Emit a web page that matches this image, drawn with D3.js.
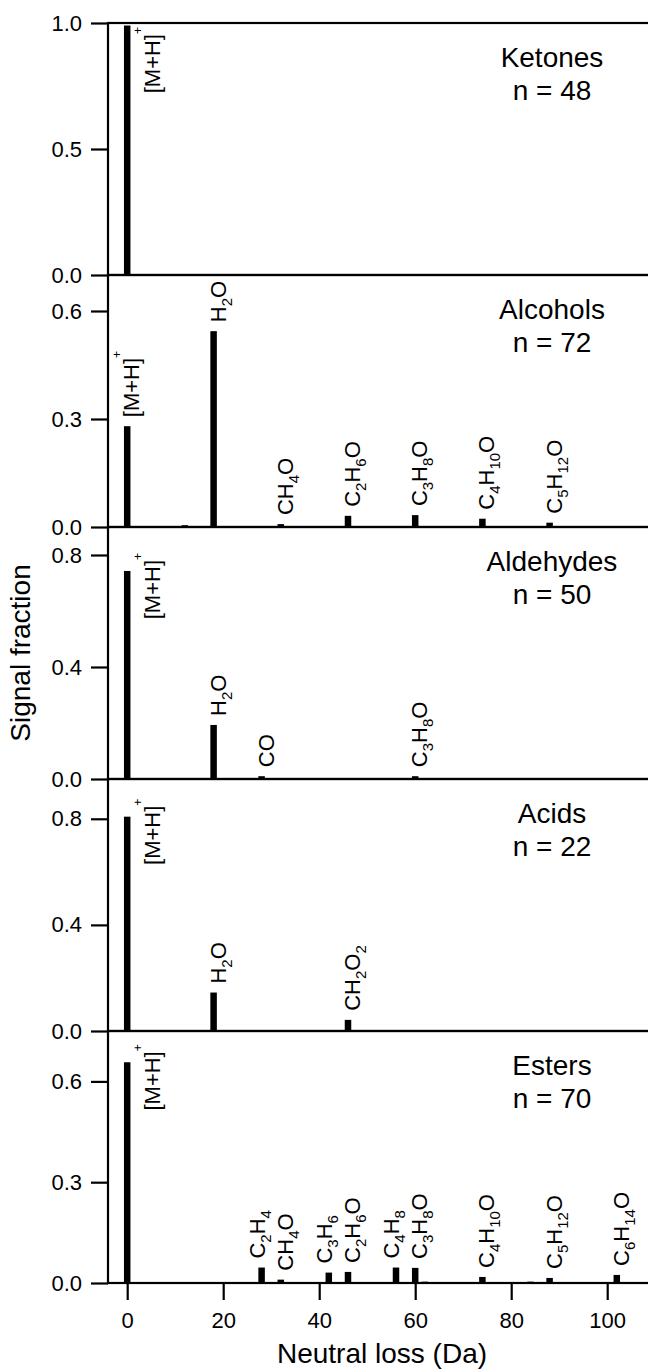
<!DOCTYPE html>
<html>
<head>
<meta charset="utf-8">
<script src="https://cdn.jsdelivr.net/npm/d3@7"></script>
<style>
body{margin:0;background:#fff;}
text{font-family:"Liberation Sans",Arial,Helvetica,sans-serif;fill:#000;}
</style>
</head>
<body>
<div id="chart"></div>
<script>
// panel info
const panelNames=["Ketones","Alcohols","Aldehydes","Acids","Esters"];
const panelCounts=[48,72,50,22,70];
const panelMax=[1.0,0.7,0.9,0.95,0.75];
const panelTicks=[[0,0.5,1.0],[0,0.3,0.6],[0,0.4,0.8],[0,0.4,0.8],[0,0.3,0.6]];
const lossTicks=[0,20,40,60,80,100];

// neutral loss (Da), signal fraction, label
const ketonesLoss=[0];
const ketonesFrac=[0.99];
const ketonesLabels=["[M+H]+"];

const alcoholsLoss=[0,12,18,32,46,60,74,88];
const alcoholsFrac=[0.28,0.005,0.544,0.008,0.031,0.033,0.023,0.012];
const alcoholsLabels=["[M+H]+","","H2O","CH4O","C2H6O","C3H8O","C4H10O","C5H12O"];

const aldehydesLoss=[0,18,28,60];
const aldehydesFrac=[0.743,0.193,0.01,0.01];
const aldehydesLabels=["[M+H]+","H2O","CO","C3H8O"];

const acidsLoss=[0,18,46];
const acidsFrac=[0.808,0.145,0.042];
const acidsLabels=["[M+H]+","H2O","CH2O2"];

const estersLoss=[0,28,32,42,46,56,60,62,74,84,88,102];
const estersFrac=[0.657,0.046,0.01,0.031,0.033,0.046,0.045,0.004,0.018,0.004,0.015,0.024];
const estersLabels=["[M+H]+","C2H4","CH4O","C3H6","C2H6O","C4H8","C3H8O","","C4H10O","","C5H12O","C6H14O"];

const panelLoss=[ketonesLoss,alcoholsLoss,aldehydesLoss,acidsLoss,estersLoss];
const panelFrac=[ketonesFrac,alcoholsFrac,aldehydesFrac,acidsFrac,estersFrac];
const panelLabels=[ketonesLabels,alcoholsLabels,aldehydesLabels,acidsLabels,estersLabels];

// layout
const svgWidth=648;
const svgHeight=1370;
const plotLeft=108;
const plotTop=23;
const panelH=252;
const barW=6.5;
const labelSize=22, subSize=15, supSize=12;
const subShift=6, supShift=-18;

const svg=d3.select("#chart").append("svg")
    .attr("width",svgWidth)
    .attr("height",svgHeight);

const x=d3.scaleLinear().domain([-4,110]).range([plotLeft,plotLeft+114*4.8]);

function writeFormula(t,label){
    const parts=label.match(/\d+|\+$|[^\d]+?(?=\d|\+$|$)/g);
    let shift=0;
    parts.forEach((p,k)=>{
        let target=0,size=labelSize;
        if(/^\d+$/.test(p)){target=subShift;size=subSize;}
        else if(p==="+"&&k===parts.length-1){target=supShift;size=supSize;}
        t.append("tspan").attr("dy",target-shift).attr("font-size",size).text(p);
        shift=target;
    });
}

panelNames.forEach((name,i)=>{
    const top=plotTop+i*panelH;
    const bottom=top+panelH;
    const y=d3.scaleLinear().domain([0,panelMax[i]]).range([bottom,top]);
    const g=svg.append("g");

    const rows=panelLoss[i].map((d,k)=>({loss:d,frac:panelFrac[i][k],label:panelLabels[i][k]}));

    g.selectAll("rect.bar")
        .data(rows)
        .enter()
        .append("rect")
        .attr("class","bar")
        .attr("x",d=>x(d.loss)-barW/2)
        .attr("y",d=>y(d.frac))
        .attr("width",barW)
        .attr("height",d=>bottom-y(d.frac))
        .attr("fill","#000");

    // frame
    g.append("rect")
        .attr("x",plotLeft)
        .attr("y",top)
        .attr("width",x.range()[1]-plotLeft+10)
        .attr("height",panelH)
        .attr("fill","none")
        .attr("stroke","#000")
        .attr("stroke-width",2.2);

    const leftAxis=d3.axisLeft(y)
        .tickValues(panelTicks[i])
        .tickFormat(d3.format(".1f"))
        .tickSize(17)
        .tickSizeOuter(0)
        .tickPadding(9);
    const ax=g.append("g").attr("transform",`translate(${plotLeft},0)`).call(leftAxis);
    ax.select(".domain").remove();
    ax.selectAll("line").attr("stroke-width",2.2);
    ax.selectAll("text").attr("font-size",22).attr("font-family",null);

    // name and count
    const title=g.append("text").attr("text-anchor","middle").attr("font-size",28);
    title.append("tspan").attr("x",552).attr("y",top+44).text(name);
    title.append("tspan").attr("x",552).attr("y",top+77).text(`n = ${panelCounts[i]}`);

    // formula labels
    const labelled=rows.filter(d=>d.label);
    labelled.forEach((d,k)=>{
        const bx=x(d.loss);
        const barTop=y(d.frac);
        const next=labelled[k+1];
        // nudge left when the next label is very close
        const off=(next&&next.loss-d.loss<=4)?3:12;
        const lg=g.append("g");
        const t=lg.append("text").attr("x",0).attr("y",0).attr("font-size",labelSize);
        writeFormula(t,d.label);
        const len=t.node().getComputedTextLength();
        let px,py;
        if(barTop-9-len<top+4){
            // no room above: put it beside the bar
            const endY=Math.max(top+4,barTop-18);
            px=bx+33; py=endY+len;
        }else{
            px=bx+off; py=barTop-9;
        }
        lg.attr("transform",`translate(${px},${py}) rotate(-90)`);
    });

    if(i===panelNames.length-1){
        const bottomAxis=d3.axisBottom(x)
            .tickValues(lossTicks)
            .tickSize(17)
            .tickSizeOuter(0)
            .tickPadding(12);
        const bx=g.append("g").attr("transform",`translate(0,${bottom})`).call(bottomAxis);
        bx.select(".domain").remove();
        bx.selectAll("line").attr("stroke-width",2.2);
        bx.selectAll("text").attr("font-size",22).attr("font-family",null);
    }
});

svg.append("text")
    .attr("text-anchor","middle")
    .attr("font-size",28)
    .attr("transform",`translate(30,${plotTop+panelH*2.5}) rotate(-90)`)
    .text("Signal fraction");

svg.append("text")
    .attr("text-anchor","middle")
    .attr("font-size",28)
    .attr("x",382)
    .attr("y",1363)
    .text("Neutral loss (Da)");
</script>
</body>
</html>
